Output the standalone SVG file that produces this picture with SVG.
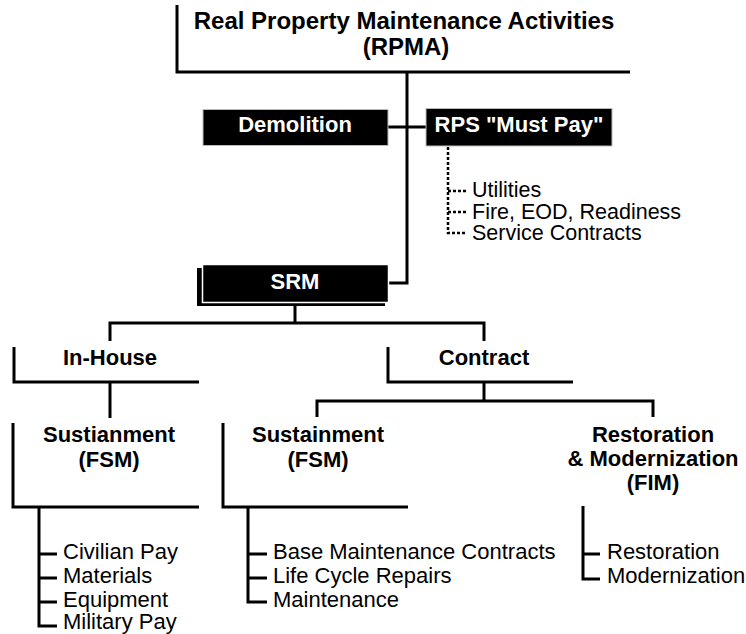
<svg xmlns="http://www.w3.org/2000/svg" width="746" height="634" viewBox="0 0 746 634">
<style>
.ln{stroke:#000;stroke-width:3;fill:none}
.dot{stroke:#000;stroke-width:2.5;stroke-dasharray:3 2;fill:none}
.box{fill:#000;stroke:#bbb;stroke-width:1}
.b{font-family:"Liberation Sans",Arial,sans-serif;font-weight:bold;font-size:22px;text-anchor:middle;fill:#000}
.t{font-family:"Liberation Sans",Arial,sans-serif;font-weight:bold;font-size:24px;text-anchor:middle;fill:#000}
.r{font-family:"Liberation Sans",Arial,sans-serif;font-size:22px;fill:#000}
.s{font-size:21.5px}
.w{fill:#fff}
</style>
<rect width="746" height="634" fill="#fff"/>
<g id="connectors">
<path class="ln" d="M407,72 V283 H389"/>
<path class="ln" d="M388,127 H426"/>
<path class="ln" d="M295,306 V323"/>
<path class="ln" d="M110,341 V323 H484 V341"/>
<path class="ln" d="M110,382 V418"/>
<path class="ln" d="M484,382 V401"/>
<path class="ln" d="M317,417 V401 H653 V417"/>
<path class="dot" d="M448,147 V233 H467"/>
<path class="dot" d="M448,191 H467 M448,212 H467"/>
<path class="ln" d="M39,507 V626 H57 M39,554 H57 M39,578 H57 M39,602 H57"/>
<path class="ln" d="M248,507 V602 H267 M248,554 H267 M248,578 H267"/>
<path class="ln" d="M583,506 V579 H600 M583,554 H600"/>
</g>
<g id="rpma">
<path class="ln" d="M177,5 V72 H630"/>
<text class="t" x="404" y="29">Real Property Maintenance Activities</text>
<text class="t" x="406" y="55">(RPMA)</text>
</g>
<g id="demolition">
<rect class="box" x="203" y="109.5" width="185" height="36"/>
<text class="b w" x="295" y="132">Demolition</text>
</g>
<g id="rps">
<rect class="box" x="426" y="108.5" width="186" height="37.5"/>
<text class="b w" x="519" y="132">RPS "Must Pay"</text>
</g>
<g id="rps-items">
<text class="r s" x="472" y="197">Utilities</text>
<text class="r s" x="472" y="218.5">Fire, EOD, Readiness</text>
<text class="r s" x="472" y="240">Service Contracts</text>
</g>
<g id="srm">
<rect x="197" y="268" width="188" height="38" fill="#000"/>
<rect x="202.5" y="264.5" width="186" height="38" fill="#000" stroke="#fff" stroke-width="1.5"/>
<text class="b w" x="295" y="289">SRM</text>
</g>
<g id="inhouse">
<path class="ln" d="M14,347 V382 H199"/>
<text class="b" x="110" y="365">In-House</text>
</g>
<g id="contract">
<path class="ln" d="M388,347 V382 H573"/>
<text class="b" x="484" y="365">Contract</text>
</g>
<g id="sust-inhouse">
<path class="ln" d="M13,423 V507 H199"/>
<text class="b" x="109" y="442">Sustianment</text>
<text class="b" x="109" y="467">(FSM)</text>
<text class="r" x="63" y="559">Civilian Pay</text>
<text class="r" x="63" y="583">Materials</text>
<text class="r" x="63" y="607">Equipment</text>
<text class="r" x="63" y="629">Military Pay</text>
</g>
<g id="sust-contract">
<path class="ln" d="M223,423 V507 H408"/>
<text class="b" x="318" y="442">Sustainment</text>
<text class="b" x="318" y="467">(FSM)</text>
<text class="r" x="273" y="559">Base Maintenance Contracts</text>
<text class="r" x="273" y="583">Life Cycle Repairs</text>
<text class="r" x="273" y="607">Maintenance</text>
</g>
<g id="fim">
<text class="b" x="653" y="442">Restoration</text>
<text class="b" x="653" y="466">&amp; Modernization</text>
<text class="b" x="653" y="490">(FIM)</text>
<text class="r" x="607" y="559">Restoration</text>
<text class="r" x="607" y="583">Modernization</text>
</g>
</svg>
